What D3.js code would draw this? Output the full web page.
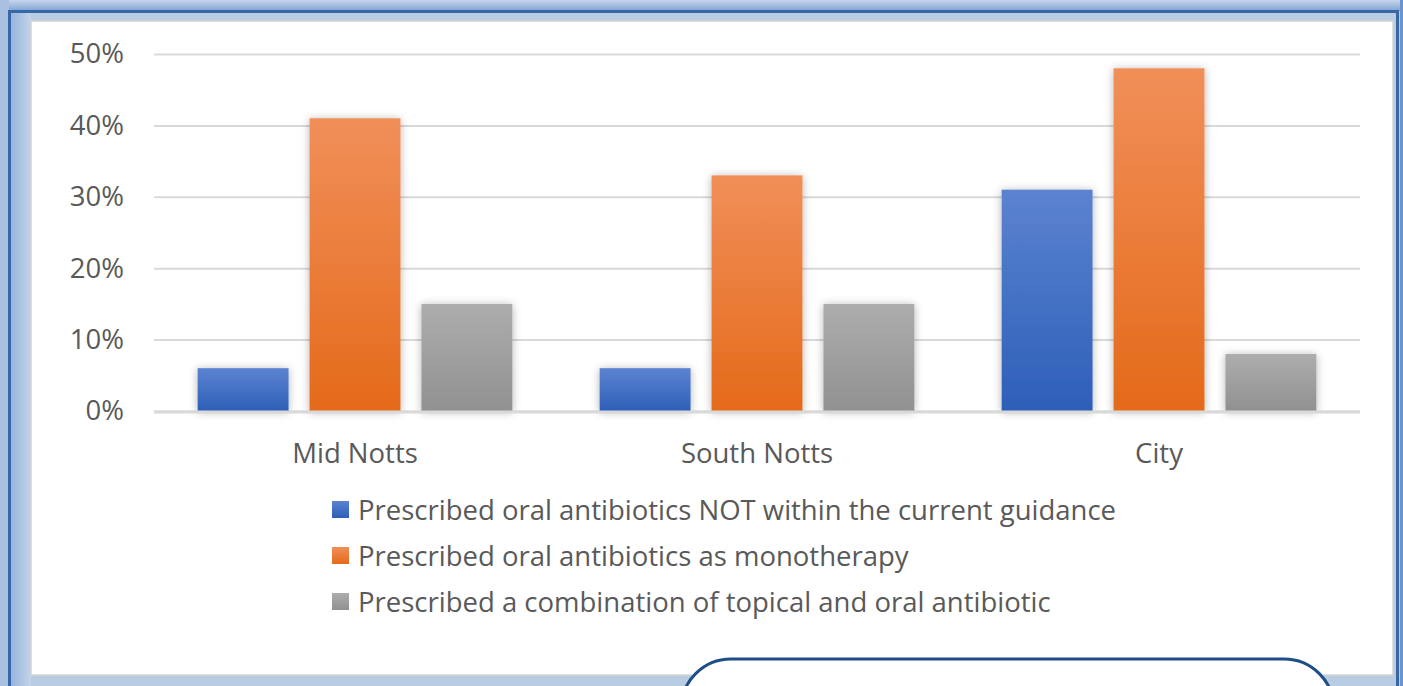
<!DOCTYPE html>
<html lang="en">
<head>
    <meta charset="UTF-8">
    <title>Oral antibiotic prescribing by area</title>
    <style>
        body {
            margin: 0;
            padding: 0;
            background: #b8cce4;
            font-family: 'Open Sans', Lato, sans-serif;
        }
        svg { display: block; }
        svg text { font-family: 'Open Sans', Lato, sans-serif; }
        .tick text { fill: #595959; }
    </style>
</head>
<body>
    <div id="chart"></div>

    <script src="https://d3js.org/d3.v7.min.js"></script>
    <script>
        const areas = ["Mid Notts", "South Notts", "City"];
        const seriesNames = [
            "Prescribed oral antibiotics NOT within the current guidance",
            "Prescribed oral antibiotics as monotherapy",
            "Prescribed a combination of topical and oral antibiotic"
        ];
        const notWithinGuidance = [0.06, 0.06, 0.31];
        const monotherapy = [0.41, 0.33, 0.48];
        const combination = [0.15, 0.15, 0.08];
        const yTicks = [0, 0.1, 0.2, 0.3, 0.4, 0.5];

        const seriesValues = [notWithinGuidance, monotherapy, combination];
        const seriesColors = [
            ["#5b83d0", "#2d5fb8"],
            ["#f18f59", "#e46a1a"],
            ["#adadad", "#919191"]
        ];

        const width = 1403;
        const height = 686;
        const plot = { left: 154, right: 1360, top: 54, bottom: 411 };
        const fontSize = "27.5px";

        const svg = d3.select("#chart")
            .append("svg")
            .attr("width", width)
            .attr("height", height);

        const defs = svg.append("defs");

        // gradients for the bars and legend swatches
        seriesColors.forEach((c, i) => {
            const g = defs.append("linearGradient")
                .attr("id", "grad" + i)
                .attr("x1", 0).attr("y1", 0).attr("x2", 0).attr("y2", 1);
            g.append("stop").attr("offset", "0%").attr("stop-color", c[0]);
            g.append("stop").attr("offset", "100%").attr("stop-color", c[1]);
        });

        const topBand = defs.append("linearGradient")
            .attr("id", "topBand").attr("x1", 0).attr("y1", 0).attr("x2", 0).attr("y2", 1);
        topBand.append("stop").attr("offset", "0%").attr("stop-color", "#c6d6ec");
        topBand.append("stop").attr("offset", "100%").attr("stop-color", "#7fa3d2");

        const leftBand = defs.append("linearGradient")
            .attr("id", "leftBand").attr("x1", 0).attr("y1", 0).attr("x2", 1).attr("y2", 0);
        leftBand.append("stop").attr("offset", "0%").attr("stop-color", "#95b3da");
        leftBand.append("stop").attr("offset", "100%").attr("stop-color", "#c3d4ea");

        const shadow = defs.append("filter")
            .attr("id", "shadow")
            .attr("x", "-20%").attr("y", "-20%").attr("width", "140%").attr("height", "140%");
        shadow.append("feDropShadow")
            .attr("dx", 0).attr("dy", 1)
            .attr("stdDeviation", 4)
            .attr("flood-color", "#000")
            .attr("flood-opacity", 0.3);

        // frame
        svg.append("rect").attr("x", 0).attr("y", 0).attr("width", width).attr("height", 11)
            .attr("fill", "url(#topBand)");
        svg.append("rect").attr("x", 0).attr("y", 0).attr("width", 9).attr("height", height)
            .attr("fill", "#a9c0e0");
        svg.append("rect").attr("x", 10).attr("y", 12).attr("width", 21).attr("height", height)
            .attr("fill", "url(#leftBand)");
        svg.append("rect")
            .attr("x", 9.5).attr("y", 11.5)
            .attr("width", 1388).attr("height", 700)
            .attr("fill", "none")
            .attr("stroke", "#3767a6")
            .attr("stroke-width", 3);
        svg.append("rect").attr("x", 1400).attr("y", 0).attr("width", 3).attr("height", height)
            .attr("fill", "#6b93cc");
        svg.append("rect")
            .attr("x", 31).attr("y", 21)
            .attr("width", 1362).attr("height", 654)
            .attr("fill", "#fff")
            .attr("stroke", "#d4d4d4")
            .attr("stroke-width", 1.5);

        // scales
        const y = d3.scaleLinear()
            .domain([0, 0.5])
            .range([plot.bottom, plot.top]);

        const x0 = d3.scaleBand()
            .domain(areas)
            .range([plot.left, plot.right])
            .paddingInner(0)
            .paddingOuter(0);

        const x1 = d3.scaleBand()
            .domain(d3.range(seriesNames.length))
            .range([0, x0.bandwidth()])
            .paddingInner(0.1875)
            .paddingOuter(0.39);

        // gridlines + y labels
        const yAxis = svg.append("g")
            .attr("transform", `translate(${plot.left},0)`)
            .call(d3.axisLeft(y)
                .tickValues(yTicks)
                .tickFormat(d3.format(".0%"))
                .tickSize(-(plot.right - plot.left))
                .tickPadding(30));
        yAxis.attr("font-family", null);
        yAxis.select(".domain").remove();
        yAxis.selectAll(".tick line")
            .attr("stroke", "#d9d9d9")
            .attr("stroke-width", 2);
        yAxis.selectAll(".tick text")
            .style("font-size", fontSize);

        // bars
        const groups = svg.append("g")
            .selectAll("g")
            .data(areas)
            .join("g")
            .attr("transform", d => `translate(${x0(d)},0)`);

        groups.selectAll("rect")
            .data((area, ai) => seriesValues.map((vals, si) => ({ si, value: vals[ai] })))
            .join("rect")
            .attr("x", d => x1(d.si))
            .attr("y", d => y(d.value))
            .attr("width", x1.bandwidth())
            .attr("height", d => y(0) - y(d.value))
            .attr("fill", d => `url(#grad${d.si})`)
            .attr("filter", "url(#shadow)");

        // baseline
        svg.append("line")
            .attr("x1", plot.left).attr("x2", plot.right)
            .attr("y1", y(0) + 1).attr("y2", y(0) + 1)
            .attr("stroke", "#d9d9d9")
            .attr("stroke-width", 3);

        // category labels
        const xAxis = svg.append("g")
            .attr("transform", `translate(0,${plot.bottom})`)
            .call(d3.axisBottom(x0).tickSize(0).tickPadding(32));
        xAxis.attr("font-family", null);
        xAxis.select(".domain").remove();
        xAxis.selectAll(".tick text")
            .style("font-size", fontSize);

        // legend
        const legend = svg.append("g")
            .selectAll("g")
            .data(seriesNames)
            .join("g")
            .attr("transform", (d, i) => `translate(332,${510 + i * 46})`);

        legend.append("rect")
            .attr("x", 0).attr("y", -9)
            .attr("width", 17).attr("height", 17)
            .attr("fill", (d, i) => `url(#grad${i})`);

        legend.append("text")
            .attr("x", 26)
            .attr("dy", "0.35em")
            .attr("fill", "#595959")
            .style("font-size", fontSize)
            .text(d => d);

        // rounded callout box peeking at the bottom
        svg.append("rect")
            .attr("x", 681).attr("y", 659)
            .attr("width", 653).attr("height", 140)
            .attr("rx", 50)
            .attr("fill", "#fff")
            .attr("stroke", "#1f4d87")
            .attr("stroke-width", 3);
    </script>
</body>
</html>
